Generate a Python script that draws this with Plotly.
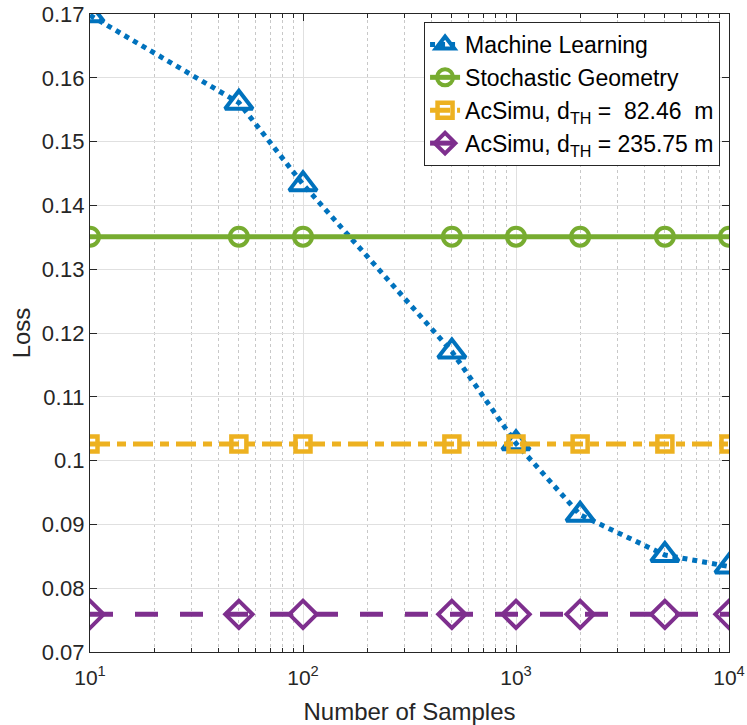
import plotly.graph_objects as go

samples = [10, 50, 100, 500, 1000, 2000, 5000, 10000]
ml_loss = [0.1698, 0.1561, 0.1433, 0.1171, 0.1027, 0.0915, 0.0852, 0.0834]
sg_loss = [0.1351] * 8
acs_82_loss = [0.1026] * 8
acs_235_loss = [0.0759] * 8

names = ["Machine Learning", "Stochastic Geometry",
         "AcSimu, d<sub>TH</sub> =  82.46  m", "AcSimu, d<sub>TH</sub> = 235.75 m"]

x_tickvals = [10, 100, 1000, 10000]
x_ticktext = ["10<sup>1</sup>", "10<sup>2</sup>", "10<sup>3</sup>", "10<sup>4</sup>"]
x_minor_tickvals = [20, 30, 40, 50, 60, 70, 80, 90,
                    200, 300, 400, 500, 600, 700, 800, 900,
                    2000, 3000, 4000, 5000, 6000, 7000, 8000, 9000]
y_tickvals = [0.07, 0.08, 0.09, 0.10, 0.11, 0.12, 0.13, 0.14, 0.15, 0.16, 0.17]
y_ticktext = ["0.07", "0.08", "0.09", "0.1", "0.11", "0.12", "0.13", "0.14", "0.15", "0.16", "0.17"]

FONT = "Liberation Sans, Arial, Helvetica, sans-serif"

fig = go.Figure()
fig.add_trace(go.Scatter(x=samples, y=ml_loss, name=names[0], mode="lines+markers",
                         line=dict(color="#0072BD", width=5, dash="dot"),
                         marker=dict(symbol="triangle-up-open", size=24, color="#0072BD",
                                     line=dict(width=4, color="#0072BD"))))
fig.add_trace(go.Scatter(x=samples, y=sg_loss, name=names[1], mode="lines+markers",
                         line=dict(color="#77AC30", width=5),
                         marker=dict(symbol="circle-open", size=18, color="#77AC30",
                                     line=dict(width=4, color="#77AC30"))))
fig.add_trace(go.Scatter(x=samples, y=acs_82_loss, name=names[2], mode="lines+markers",
                         line=dict(color="#EDB120", width=5, dash="20px,7px,9px,7px"),
                         marker=dict(symbol="square-open", size=15, color="#EDB120",
                                     line=dict(width=4.5, color="#EDB120"))))
fig.add_trace(go.Scatter(x=samples, y=acs_235_loss, name=names[3], mode="lines+markers",
                         line=dict(color="#7E2F8E", width=5, dash="23px,22px"),
                         marker=dict(symbol="diamond-open", size=21, color="#7E2F8E",
                                     line=dict(width=4, color="#7E2F8E"))))

fig.update_layout(
    width=747, height=725,
    margin=dict(l=90, r=18, t=14, b=73),
    paper_bgcolor="white", plot_bgcolor="white",
    font=dict(family=FONT, size=22, color="#262626"),
    showlegend=True,
    legend=dict(x=0.986, y=0.9875, xanchor="right", yanchor="top",
                bgcolor="white", bordercolor="#262626", borderwidth=1,
                font=dict(family=FONT, size=23, color="black"),
                itemwidth=30, tracegroupgap=0),
    xaxis=dict(type="log", range=[1, 4], tickmode="array",
               tickvals=x_tickvals, ticktext=x_ticktext, automargin=False,
               title=dict(text="Number of Samples", standoff=14, font=dict(size=24)),
               showline=True, linecolor="#262626", linewidth=1.2, mirror="ticks",
               ticks="inside", ticklen=7, tickcolor="#262626",
               ticklabelstandoff=7, ticklabeloverflow="allow",
               showgrid=True, gridcolor="#E0E0E0", gridwidth=1,
               minor=dict(tickmode="array", tickvals=x_minor_tickvals,
                          ticks="inside", ticklen=4, tickcolor="#262626",
                          showgrid=True, gridcolor="#C8C8C8", griddash="dot", gridwidth=1),
               zeroline=False, tickfont=dict(size=21)),
    yaxis=dict(range=[0.07, 0.17], tickmode="array", automargin=False,
               tickvals=y_tickvals, ticktext=y_ticktext, ticklabeloverflow="allow",
               title=dict(text="Loss", standoff=4, font=dict(size=24)),
               showline=True, linecolor="#262626", linewidth=1.2, mirror="ticks",
               ticks="inside", ticklen=7, tickcolor="#262626",
               showgrid=True, gridcolor="#E0E0E0", gridwidth=1,
               zeroline=False, tickfont=dict(size=22)),
)

fig.write_html("out.html", config={"displayModeBar": False},
               post_script="document.body.style.margin='0';document.body.style.overflow='hidden';")
